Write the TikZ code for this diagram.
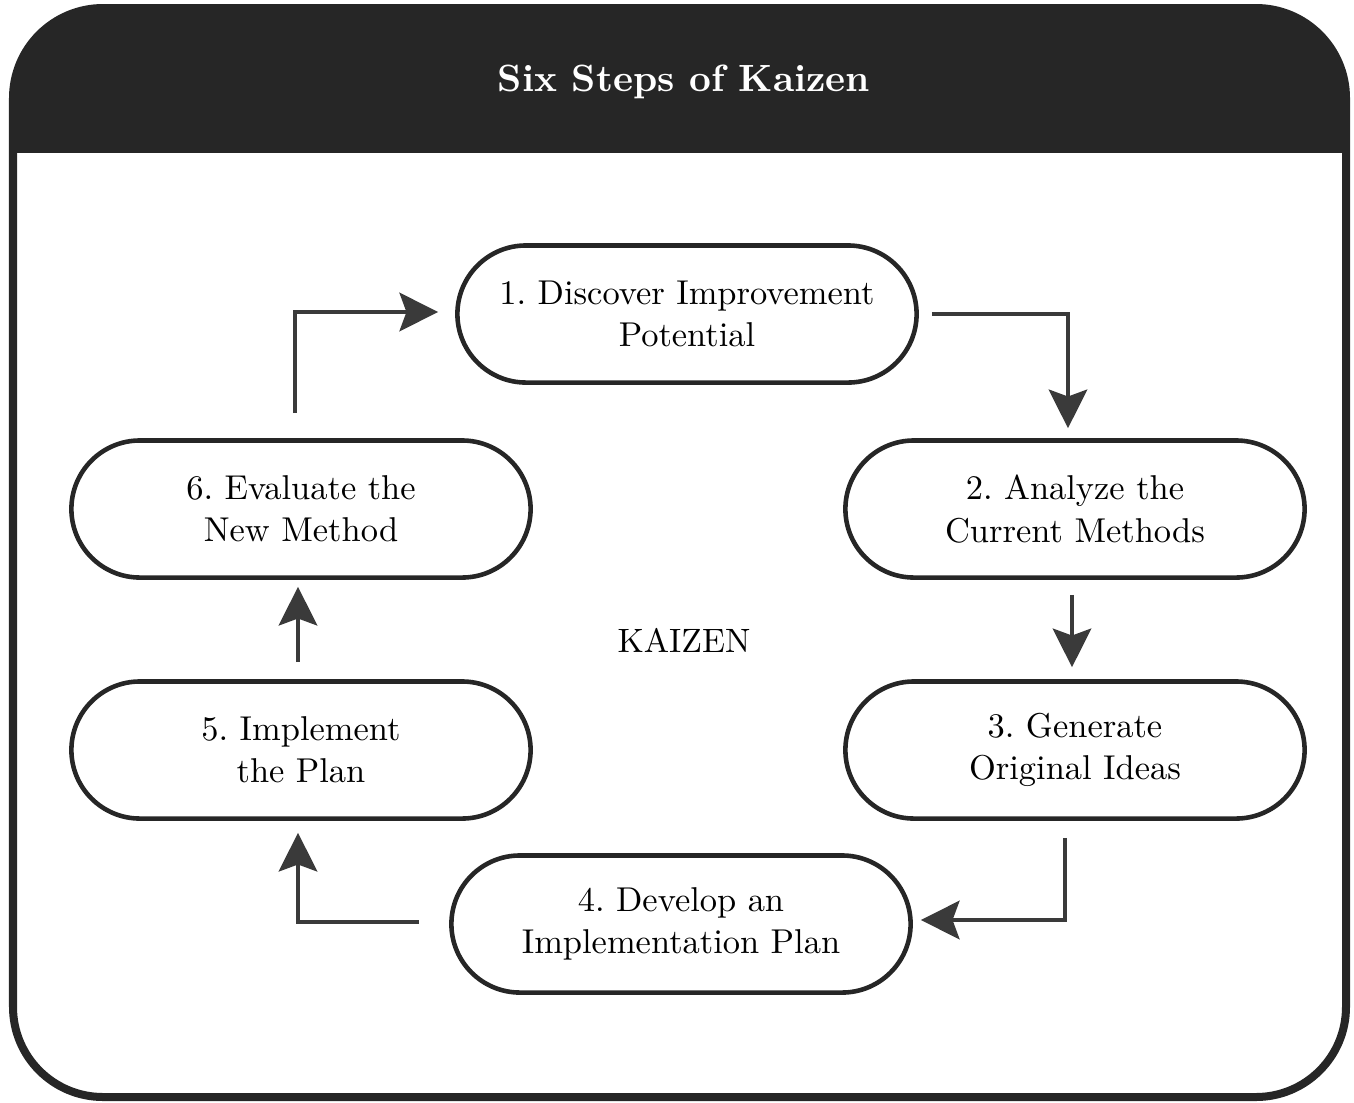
\documentclass[tikz,border=0pt]{standalone}
\usepackage{tikz}
\usetikzlibrary{arrows.meta,positioning,shapes.misc}

\definecolor{frameblack}{HTML}{262626}
\definecolor{linegray}{HTML}{3A3A3A}
\frenchspacing

\begin{document}
\begin{tikzpicture}[
    x=0.01cm,
    y=-0.01cm,
    stepnode/.style={draw=frameblack, rounded rectangle, line width=1.3pt, align=center,
      minimum width=4.73cm, minimum height=1.37cm, inner sep=2pt,
      font=\fontsize{9.8}{12}\selectfont},
    arrow/.style={-{Stealth[length=11pt, width=11pt, inset=2pt]}, draw=linegray, line width=0.9pt},
    >=Stealth
  ]
    \useasboundingbox (0,0) rectangle (1354,1102);

    % -- frame with black header band --
    \begin{scope}
      \clip[rounded corners=0.9cm] (13,8) rectangle (1346,1097);
      \fill[frameblack] (13,8) rectangle (1346,153);
    \end{scope}
    \draw[frameblack, line width=0.08cm, rounded corners=0.9cm] (13,8) rectangle (1346,1097);
    \node[text=white, font=\fontsize{10.8}{13}\selectfont\bfseries] (title) at (684,82) {Six Steps of Kaizen};

    % -- the six steps --
    \node[stepnode] (s1) at (687,314) {1. Discover Improvement\\Potential};
    \node[stepnode] (s2) at (1075,509) {2. Analyze the\\Current Methods};
    \node[stepnode] (s3) at (1075,750) {3. Generate\\Original Ideas};
    \node[stepnode] (s4) at (681,924) {4. Develop an\\Implementation Plan};
    \node[stepnode] (s5) at (301,750) {5. Implement\\the Plan};
    \node[stepnode] (s6) at (301,509) {6. Evaluate the\\New Method};

    \node[font=\fontsize{9.6}{12}\selectfont] (kaizen) at (684,640) {KAIZEN};

    % -- cycle arrows --
    \draw[arrow] ([xshift=0.13cm]s1.east) -| ([xshift=-0.07cm, yshift=0.1cm]s2.north);
    \draw[arrow] ([xshift=-0.03cm, yshift=-0.15cm]s2.south) -- ([xshift=-0.03cm, yshift=0.12cm]s3.north);
    \draw[arrow] ([xshift=-0.1cm, yshift=-0.17cm]s3.south) |- ([xshift=0.08cm, yshift=0.04cm]s4.east);
    \draw[arrow] ([xshift=-0.3cm, yshift=0.02cm]s4.west) -| ([xshift=-0.03cm, yshift=-0.12cm]s5.south);
    \draw[arrow] ([xshift=-0.03cm, yshift=0.17cm]s5.north) -- ([xshift=-0.03cm, yshift=-0.07cm]s6.south);
    \draw[arrow] ([xshift=-0.06cm, yshift=0.25cm]s6.north) |- ([xshift=-0.17cm, yshift=0.02cm]s1.west);
\end{tikzpicture}
\end{document}
